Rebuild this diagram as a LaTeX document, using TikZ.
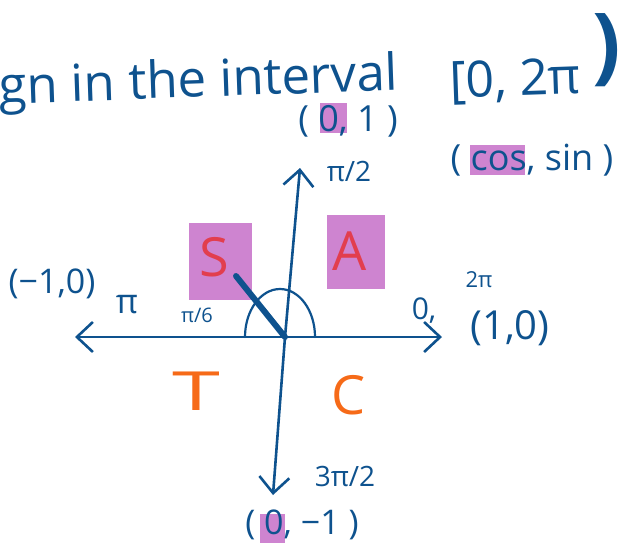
\documentclass[tikz,border=0pt]{standalone}
\usepackage{fontspec}
\setmainfont{Open Sans}
\usetikzlibrary{arrows.meta,positioning,calc}

\definecolor{ink}{RGB}{14,82,142}
\definecolor{hilite}{RGB}{206,132,208}
\definecolor{quadred}{RGB}{226,62,78}
\definecolor{quadorange}{RGB}{246,106,24}

\newcommand{\handsize}[1]{\fontsize{#1}{#1}\selectfont}

\begin{document}
\begin{tikzpicture}[
    x=1pt, y=-1pt,
    >={Straight Barb[length=16pt,width=30pt]},
    line join=round,
    line cap=round,
    hand/.style={text=ink, inner sep=0pt},
    quad/.style={inner sep=0pt, font=\handsize{54}},
    hlbox/.style={fill=hilite, draw=none, inner sep=0pt},
    axis/.style={->, line width=2.6pt, draw=ink}
]
\useasboundingbox (0,0) rectangle (626,550);

% =========================
% Heading
% =========================
\node[hand, anchor=base west, rotate=2, font=\handsize{51}] (title) at (-1,104) {gn in the interval};
\node[hand, anchor=base west, rotate=2, font=\handsize{50}] (range) at (450,98) {[0, 2π};
\node[hand, anchor=center, font=\bfseries\handsize{84}] (close) at (607,50) {)};

% =========================
% Highlights
% =========================
\node[hlbox, minimum width=27, minimum height=30] (hlnorth) at (333,118) {};
\node[hlbox, minimum width=55, minimum height=30] (hlcos) at (497,160) {};
\node[hlbox, minimum width=25, minimum height=29] (hlsouth) at (272,528) {};
\node[hlbox, minimum width=63, minimum height=77] (hlS) at (220,261) {};
\node[hlbox, minimum width=58, minimum height=74] (hlA) at (356,252) {};

% =========================
% Axes
% =========================
\coordinate (o) at (285,337);
\coordinate (east) at (442,337);
\coordinate (west) at (75,337);
\coordinate (north) at (300,168);
\coordinate (south) at (273,495);

\draw[axis] (o) -- (east);
\draw[axis] (o) -- (west);
\draw[axis] (o) -- (north);
\draw[axis] (o) -- (south);

% angle mark and terminal side
\draw[line width=2.2pt, draw=ink] (315,337) arc[start angle=0, end angle=-180, x radius=35, y radius=48];
\coordinate (tip) at (236,276);
\draw[line width=6pt, draw=ink] (o) -- (tip);

% =========================
% Point labels
% =========================
\node[hand, font=\handsize{36}] (ptnorth) at (348,121) {( 0, 1 )};
\node[hand, font=\handsize{28}] (halfpi) at (349,171) {π/2};
\node[hand, font=\handsize{36}] (cossin) at (532,160) {( cos, sin )};
\node[hand, font=\handsize{34}] (ptwest) at (52,284) {(−1,0)};
\node[hand, font=\handsize{34}] (pi) at (127,305) {π};
\node[hand, font=\handsize{20}] (sixth) at (197,315) {π/6};
\node[hand, font=\handsize{30}] (zero) at (424,311) {0,};
\node[hand, font=\handsize{22}] (twopi) at (479,280) {2π};
\node[hand, font=\handsize{40}] (pteast) at (510,328) {(1,0)};
\node[hand, font=\handsize{28}] (threehalf) at (345,476) {3π/2};
\node[hand, font=\handsize{34}] (ptsouth) at (302,525) {( 0, −1 )};

% =========================
% Quadrants
% =========================
\node[quad, text=quadred] (qS) at (214,257) {S};
\node[quad, text=quadred] (qA) at (350,251) {A};
\node[quad, text=quadorange, xscale=1.6] (qT) at (196,391) {T};
\node[quad, text=quadorange] (qC) at (349,395) {C};

\end{tikzpicture}
\end{document}
